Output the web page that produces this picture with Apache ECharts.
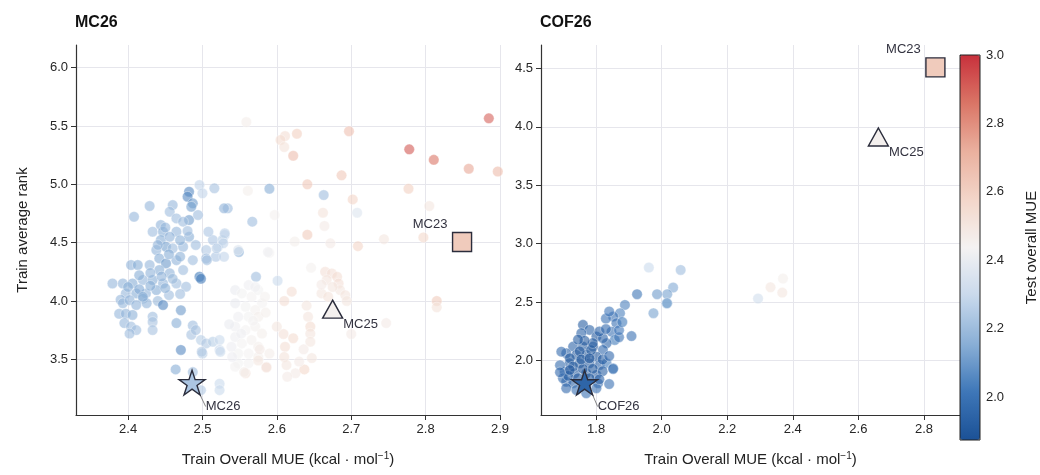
<!DOCTYPE html>
<html>
<head>
<meta charset="utf-8">
<script src="https://cdn.jsdelivr.net/npm/echarts@6/dist/echarts.min.js"></script>
<title>MC26 / COF26 train vs test MUE</title>
</head>
<body style="margin:0; background:#ffffff;">
<div id="chart" style="width:1040px; height:475px;"></div>
<script>
// [train overall MUE, train average rank, test overall MUE]
const mcPoints = [
  // warm outliers
  [2.885,5.566,2.90],[2.778,5.30,2.92],[2.811,5.21,2.86],[2.858,5.134,2.74],[2.897,5.11,2.68],
  [2.697,5.455,2.66],[2.627,5.434,2.60],[2.611,5.414,2.54],[2.605,5.38,2.55],[2.61,5.32,2.52],
  [2.622,5.245,2.67],[2.559,5.534,2.47],[2.687,5.077,2.63],[2.641,5.0,2.63],[2.777,4.962,2.60],
  [2.702,4.871,2.58],[2.805,4.814,2.50],[2.662,4.757,2.52],[2.708,4.757,2.36],[2.664,4.643,2.48],
  [2.641,4.568,2.62],[2.663,4.908,2.20],[2.59,4.962,2.15],[2.561,4.945,2.46],[2.797,4.545,2.57],
  [2.744,4.53,2.50],[2.709,4.47,2.58],[2.672,4.494,2.48],[2.624,4.51,2.46],[2.597,4.737,2.45],
  [2.567,4.68,2.20],[2.815,4.0,2.62],[2.815,3.945,2.52],[2.747,3.81,2.48],[2.70,3.716,2.48],
  [2.59,4.413,2.44],[2.601,4.173,2.30],[2.572,4.207,2.20],[2.549,4.42,2.15],[2.646,4.285,2.45],
  [2.534,4.794,2.20],[2.53,4.565,2.30],[2.521,4.465,2.28],[2.548,4.437,2.36],[2.588,4.42,2.42],
  // blue cluster
  [2.482,4.937,2.06],[2.48,4.894,2.06],[2.487,4.837,2.10],[2.485,4.808,2.12],[2.496,4.994,2.28],
  [2.50,4.923,2.28],[2.516,4.966,2.22],[2.482,4.694,2.10],[2.494,4.737,2.20],[2.46,4.822,2.18],
  [2.456,4.765,2.20],[2.429,4.814,2.18],[2.408,4.722,2.18],[2.465,4.708,2.20],[2.474,4.68,2.20],
  [2.444,4.651,2.17],[2.433,4.594,2.20],[2.447,4.594,2.15],[2.465,4.594,2.18],[2.482,4.551,2.15],
  [2.491,4.48,2.20],[2.505,4.437,2.24],[2.514,4.522,2.23],[2.527,4.522,2.26],[2.529,4.794,2.17],
  [2.444,4.522,2.15],[2.456,4.551,2.17],[2.451,4.465,2.12],[2.438,4.437,2.17],[2.46,4.451,2.20],
  [2.474,4.465,2.18],[2.442,4.365,2.15],[2.451,4.322,2.10],[2.465,4.35,2.17],[2.487,4.35,2.20],
  [2.505,4.365,2.20],[2.518,4.379,2.23],[2.404,4.308,2.17],[2.413,4.308,2.15],[2.429,4.308,2.18],
  [2.442,4.265,2.15],[2.456,4.237,2.17],[2.474,4.265,2.20],[2.496,4.207,2.02],[2.379,4.15,2.18],
  [2.393,4.15,2.17],[2.406,4.15,2.15],[2.42,4.18,2.18],[2.433,4.18,2.15],[2.447,4.15,2.17],
  [2.465,4.15,2.20],[2.478,4.122,2.20],[2.397,4.065,2.18],[2.411,4.065,2.15],[2.424,4.065,2.17],
  [2.438,4.093,2.15],[2.40,4.12,2.16],[2.415,4.10,2.14],[2.43,4.13,2.15],[2.445,4.21,2.17],
  [2.46,4.19,2.19],[2.39,4.01,2.18],[2.42,4.02,2.16],[2.425,3.98,2.17],[2.44,4.0,2.19],
  [2.455,4.05,2.20],[2.47,4.06,2.20],[2.45,4.11,2.16],[2.43,4.24,2.17],[2.415,4.22,2.15],
  [2.47,4.38,2.16],[2.455,4.40,2.15],[2.44,4.48,2.18],[2.47,4.52,2.16],[2.48,4.60,2.20],
  [2.45,4.63,2.18],[2.393,3.98,2.18],[2.402,4.007,2.17],[2.411,3.965,2.17],[2.42,4.036,2.15],
  [2.388,3.89,2.18],[2.397,3.89,2.17],[2.406,3.88,2.16],[2.395,3.81,2.18],[2.404,3.78,2.20],
  [2.411,3.75,2.20],[2.402,3.72,2.20],[2.433,3.865,2.20],[2.433,3.82,2.22],[2.433,3.75,2.22],
  [2.447,3.965,2.05],[2.465,3.81,2.15],[2.471,3.92,2.10],[2.487,3.79,2.20],[2.485,3.71,2.22],
  [2.491,3.75,2.22],[2.498,3.665,2.26],[2.505,3.636,2.24],[2.514,3.65,2.26],[2.523,3.665,2.30],
  [2.523,3.58,2.29],[2.50,3.55,2.25],[2.471,3.58,2.06],[2.464,3.413,2.15],[2.487,3.39,2.20],
  [2.498,3.235,2.24],[2.523,3.29,2.30],[2.523,3.235,2.30],[2.508,4.594,2.23],[2.53,4.58,2.27],
  [2.528,4.494,2.28],[2.519,4.451,2.27],[2.506,4.35,2.20],[2.529,4.379,2.28],[2.498,4.19,2.03],
  [2.499,3.564,2.24],[2.524,3.564,2.30],
  // pale cluster
  [2.544,4.093,2.40],[2.553,4.065,2.43],[2.562,4.136,2.42],[2.566,4.036,2.44],[2.575,4.093,2.43],
  [2.58,3.98,2.44],[2.544,3.98,2.40],[2.558,3.95,2.43],[2.571,3.922,2.45],[2.548,3.865,2.42],
  [2.562,3.865,2.43],[2.575,3.865,2.46],[2.544,3.78,2.42],[2.558,3.75,2.44],[2.571,3.78,2.45],
  [2.58,3.72,2.46],[2.544,3.69,2.42],[2.553,3.636,2.44],[2.566,3.665,2.45],[2.575,3.607,2.46],
  [2.548,3.55,2.43],[2.562,3.55,2.44],[2.575,3.52,2.46],[2.548,3.465,2.43],[2.562,3.465,2.44],
  [2.558,3.38,2.52],[2.586,3.436,2.49],[2.539,3.607,2.41],[2.571,4.12,2.42],[2.584,4.036,2.45],
  [2.544,3.436,2.44],[2.556,3.39,2.47],[2.536,3.80,2.40],[2.552,3.72,2.42],[2.568,3.83,2.44],
  [2.54,3.52,2.41],[2.585,3.90,2.46],[2.59,3.55,2.47],
  // peach cluster
  [2.665,4.25,2.53],[2.674,4.236,2.53],[2.681,4.207,2.54],[2.667,4.18,2.51],[2.683,4.15,2.53],
  [2.685,4.093,2.50],[2.692,4.05,2.51],[2.66,4.065,2.50],[2.669,4.036,2.52],[2.694,4.0,2.50],
  [2.62,4.08,2.54],[2.61,4.0,2.54],[2.64,3.96,2.50],[2.642,3.865,2.51],[2.645,3.78,2.55],
  [2.645,3.72,2.51],[2.609,3.716,2.53],[2.622,3.68,2.55],[2.611,3.607,2.54],[2.645,3.65,2.50],
  [2.636,3.585,2.48],[2.647,3.51,2.50],[2.61,3.52,2.52],[2.613,3.45,2.50],[2.625,3.38,2.48],
  [2.637,3.413,2.57],[2.614,3.35,2.48],[2.586,3.43,2.53],[2.577,3.585,2.48],[2.575,3.49,2.50],
  [2.66,4.14,2.48],[2.675,4.12,2.50],[2.60,3.78,2.50],[2.63,3.48,2.48]
];

const cofPoints = [
  [1.888,2.477,2.04],[1.873,2.406,2.04],[1.852,2.377,1.99],[1.862,2.32,1.99],[1.847,2.248,1.99],
  [1.857,2.177,2.02],[1.832,2.149,1.94],[1.908,2.21,1.99],[1.975,2.406,2.12],[2.015,2.49,2.12],
  [1.76,2.306,1.92],[1.78,2.263,1.94],[1.755,2.235,1.94],[1.801,2.206,1.91],[1.821,2.192,1.94],
  [1.73,2.12,1.94],[1.76,2.12,1.90],[1.791,2.12,1.91],[1.821,2.092,1.96],[1.709,2.063,1.94],
  [1.74,2.049,1.90],[1.77,2.049,1.90],[1.801,2.034,1.91],[1.694,2.077,1.97],[1.719,1.977,1.92],
  [1.75,1.977,1.90],[1.78,1.977,1.90],[1.811,1.963,1.94],[1.832,1.977,2.02],[1.704,1.906,1.94],
  [1.735,1.892,1.91],[1.77,1.892,1.90],[1.801,1.878,1.91],[1.852,1.935,2.04],[1.709,1.82,1.94],
  [1.699,1.849,1.97],[1.73,1.806,1.94],[1.77,1.792,1.91],[1.806,1.806,1.96],[1.709,1.764,1.96],
  [1.77,1.721,1.99],[1.801,1.764,1.99],[1.74,1.749,1.99],[1.72,2.02,1.90],[1.75,2.08,1.91],
  [1.785,2.09,1.90],[1.79,2.15,1.92],[1.765,2.17,1.91],[1.745,2.18,1.92],[1.73,1.95,1.90],
  [1.76,1.93,1.89],[1.79,1.93,1.90],[1.82,1.91,1.93],[1.82,2.01,1.92],[1.84,2.04,1.96],
  [1.81,2.25,1.94],[1.83,2.27,1.96],[1.715,1.87,1.92],[1.745,1.85,1.91],[1.78,1.85,1.90],
  [1.81,1.84,1.94],[1.72,1.92,1.91],[1.755,2.01,1.90],[1.78,2.02,1.89],[1.69,1.96,1.97],
  [1.69,1.90,1.96],[1.84,1.80,1.99],[1.87,2.20,1.99],[1.87,2.26,2.01],[1.88,2.33,2.02],
  [1.83,2.36,1.99],[1.84,2.42,2.01],
  [1.961,2.796,2.30],[2.058,2.776,2.20],[2.035,2.625,2.14],[2.017,2.568,2.12],[1.986,2.568,2.10],
  [1.925,2.568,2.00],[2.017,2.491,2.12],[1.852,1.929,1.99],
  [2.294,2.531,2.32],[2.332,2.628,2.50],[2.37,2.702,2.46],[2.368,2.582,2.50]
];

// reference models: [name, train MUE, train rank, test MUE]
const mcRefs = [['MC26',2.486,3.30,2.23],['MC25',2.675,3.93,2.45],['MC23',2.849,4.505,2.62]];
const cofRefs = [['COF26',1.765,1.812,1.95],['MC25',2.661,3.913,2.45],['MC23',2.835,4.509,2.62]];

const mcXTicks = [2.4,2.5,2.6,2.7,2.8,2.9];
const mcYTicks = [3.5,4.0,4.5,5.0,5.5,6.0];
const cofXTicks = [1.8,2.0,2.2,2.4,2.6,2.8];
const cofYTicks = [2.0,2.5,3.0,3.5,4.0,4.5];
const cbTicks = [2.0,2.2,2.4,2.6,2.8,3.0];

const testMin = 1.875, testMax = 3.0;

const star = 'path://M100,0 L122.45,69.1 L195.1,69.1 L136.3,111.8 L158.8,180.9 L100,138.2 L41.2,180.9 L63.7,111.8 L4.9,69.1 L77.55,69.1 Z';
const refStyle = {
  MC26: {symbol: star, size: 26, dx: 31, dy: 24, line: true},
  COF26: {symbol: star, size: 26, dx: 34, dy: 24, line: true},
  MC25: {symbol: 'triangle', size: [20, 18], dx: 28, dy: 15, line: false},
  MC23: {symbol: 'rect', size: 19, dx: -32, dy: -18, line: false}
};

const font = 'Liberation Sans, Arial, sans-serif';
const axisColor = '#333333';
const gridColor = '#e6e6ec';
const fmt = v => Number(v).toFixed(1);

function xAxis(gridIndex, min, max, ticks) {
  return {
    type: 'value', gridIndex, min, max,
    axisLine: {show: true, onZero: false, lineStyle: {color: axisColor, width: 1.2}},
    axisTick: {show: true, length: 5, customValues: ticks, lineStyle: {color: axisColor}},
    axisLabel: {customValues: ticks, formatter: fmt, color: '#262626', fontSize: 13, fontFamily: font, margin: 8},
    splitLine: {show: true, lineStyle: {color: gridColor, width: 1}},
    name: 'Train Overall MUE (kcal · mol{sup|−1})',
    nameLocation: 'middle', nameGap: 36,
    nameTextStyle: {fontSize: 15, color: '#222', fontFamily: font,
      rich: {sup: {fontSize: 10, color: '#222', fontFamily: font, padding: [0, 0, 8, 0]}}}
  };
}
function yAxis(gridIndex, min, max, ticks, name) {
  return {
    type: 'value', gridIndex, min, max,
    axisLine: {show: true, onZero: false, lineStyle: {color: axisColor, width: 1.2}},
    axisTick: {show: true, length: 5, customValues: ticks, lineStyle: {color: axisColor}},
    axisLabel: {customValues: ticks, formatter: fmt, color: '#262626', fontSize: 13, fontFamily: font, margin: 8},
    splitLine: {show: true, lineStyle: {color: gridColor, width: 1}},
    name: name, nameLocation: 'middle', nameGap: 46,
    nameTextStyle: {fontSize: 15, color: '#222', fontFamily: font}
  };
}

function cloud(points, idx) {
  return {
    type: 'scatter', xAxisIndex: idx, yAxisIndex: idx,
    data: points, symbolSize: 10.5,
    itemStyle: {opacity: 0.6, borderColor: '#ffffff', borderWidth: 0.6},
    z: 2
  };
}
function refs(list, idx) {
  return {
    type: 'scatter', xAxisIndex: idx, yAxisIndex: idx, z: 5,
    data: list.map(r => {
      const s = refStyle[r[0]];
      return {
        name: r[0], value: [r[1], r[2], r[3]],
        symbol: s.symbol, symbolSize: s.size, symbolKeepAspect: true,
        labelLine: {show: s.line, lineStyle: {color: '#666', width: 0.8}, length2: 0}
      };
    }),
    itemStyle: {opacity: 1, borderColor: '#2b2d3c', borderWidth: 1.4},
    label: {show: true, position: 'inside', formatter: p => p.name,
      color: '#333340', fontSize: 13, fontFamily: font},
    labelLayout: p => {
      const s = refStyle[list[p.dataIndex][0]];
      return {dx: s.dx, dy: s.dy};
    }
  };
}

const chart = echarts.init(document.getElementById('chart'), null, {renderer: 'canvas'});

const option = {
  backgroundColor: '#ffffff',
  animation: false,
  textStyle: {fontFamily: font},
  title: [
    {text: 'MC26', left: 75, top: 15, padding: 0, textStyle: {fontSize: 16, fontWeight: 'bold', color: '#111', fontFamily: font}},
    {text: 'COF26', left: 540, top: 15, padding: 0, textStyle: {fontSize: 16, fontWeight: 'bold', color: '#111', fontFamily: font}}
  ],
  grid: [
    {left: 76, top: 45, width: 424, height: 370},
    {left: 541, top: 45, width: 419, height: 370},
    {left: 960, top: 55, width: 20, height: 385, show: true, borderColor: '#222', borderWidth: 1, backgroundColor: 'transparent', z: 10}
  ],
  xAxis: [
    xAxis(0, 2.33, 2.9, mcXTicks),
    xAxis(1, 1.632, 2.91, cofXTicks),
    {type: 'value', gridIndex: 2, show: false, min: 0, max: 1}
  ],
  yAxis: [
    yAxis(0, 3.022, 6.195, mcYTicks, 'Train average rank'),
    yAxis(1, 1.535, 4.70, cofYTicks, ''),
    {
      type: 'value', gridIndex: 2, position: 'right', min: testMin, max: testMax,
      axisLine: {show: false},
      axisTick: {show: true, length: 4, customValues: cbTicks, lineStyle: {color: axisColor}},
      axisLabel: {customValues: cbTicks, formatter: fmt, color: '#262626', fontSize: 13, fontFamily: font, margin: 6},
      splitLine: {show: false},
      name: 'Test overall MUE', nameLocation: 'middle', nameGap: 44,
      nameTextStyle: {fontSize: 15, color: '#222', fontFamily: font}
    }
  ],
  visualMap: {
    type: 'continuous', min: testMin, max: testMax, dimension: 2,
    seriesIndex: [0, 1, 2, 3],
    calculable: false, hoverLink: false,
    left: 960, top: 55, itemWidth: 20, itemHeight: 385, padding: 0,
    text: null, showLabel: false,
    inRange: {color: ['#1b5196', '#3e77b8', '#8aafd6', '#c9d9ec', '#f4f2f2', '#f3d6c9', '#eab09e', '#da7566', '#c8313c']}
  },
  series: [
    cloud(mcPoints, 0),
    cloud(cofPoints, 1),
    refs(mcRefs, 0),
    refs(cofRefs, 1)
  ]
};

chart.setOption(option);
</script>
</body>
</html>
